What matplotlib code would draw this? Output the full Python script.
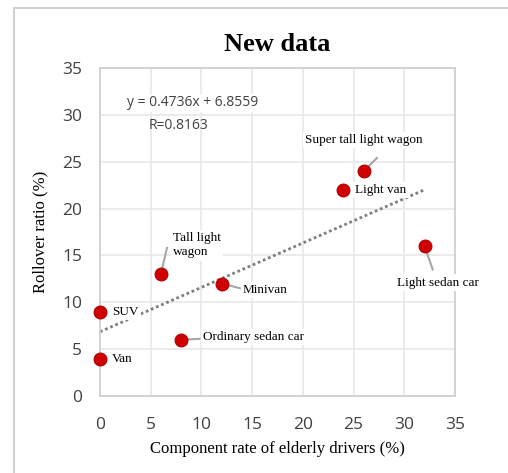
import numpy as np
import matplotlib.pyplot as plt
from matplotlib.lines import Line2D

# data
names = ['Van', 'SUV', 'Tall light\nwagon', 'Ordinary sedan car', 'Minivan',
         'Light van', 'Super tall light wagon', 'Light sedan car']
elderly = [0, 0, 6, 8, 12, 24, 26, 32]
rollover = [4, 9, 13, 6, 12, 22, 24, 16]
slope, intercept = 0.4736, 6.8559
eq_text = 'y = 0.4736x + 6.8559'
r_text = 'R=0.8163'
ticks = [0, 5, 10, 15, 20, 25, 30, 35]

# label placement (text pos, leader end or None)
label_pos = [(1.2, 4.0, None), (1.2, 9.0, None), (7.2, 16.1, (6.6, 15.8)),
             (10.2, 6.3, (9.8, 6.1)), (14.1, 11.3, (13.8, 11.5)),
             (25.1, 22.0, None), (20.2, 27.3, (27.3, 25.4)),
             (29.3, 12.1, (32.8, 13.5))]

serif = 'Liberation Serif'
sans = 'Open Sans'

fig = plt.figure(figsize=(5.08, 4.73), dpi=100)
ax = fig.add_axes([100/508, 1-396/473, 355/508, 328/473])

# outer chart frame (only left and top visible)
fig.add_artist(Line2D([14/508, 14/508], [0, 1-8/473], color='#d0d0d0', lw=1.5,
                      transform=fig.transFigure))
fig.add_artist(Line2D([14/508, 1], [1-8/473, 1-8/473], color='#d0d0d0', lw=1.5,
                      transform=fig.transFigure))

ax.set_xlim(0, 35)
ax.set_ylim(0, 35)
ax.set_xticks(ticks)
ax.set_yticks(ticks)
ax.grid(True, color='#e8e8e8', lw=1.2)
ax.set_axisbelow(True)
for s in ax.spines.values():
    s.set_color('#d0d0d0')
    s.set_linewidth(1.3)
ax.tick_params(length=0, labelsize=12.5, labelcolor='#404040')
ax.tick_params(axis='y', pad=13)
ax.tick_params(axis='x', pad=15)
for lab in ax.get_xticklabels() + ax.get_yticklabels():
    lab.set_fontfamily(sans)

# trend line
xt = np.array([0, 32])
ax.plot(xt, slope*xt + intercept, ls=(0, (1, 1)), color='#7f7f7f', lw=2.0, zorder=2)

ax.scatter(elderly, rollover, s=85, color='#d00000', edgecolor='#b00000',
           lw=0.8, zorder=5, clip_on=False)

for name, x, y, (tx, ty, lead) in zip(names, elderly, rollover, label_pos):
    if lead is not None:
        ax.plot([x, lead[0]], [y, lead[1]], color='#a6a6a6', lw=1.5, zorder=4)
    ax.text(tx, ty, name, ha='left', va='center', family=serif, fontsize=9.5,
            linespacing=1.3, zorder=3,
            bbox=dict(facecolor='white', edgecolor='none', pad=1.5))

ax.text(9.1, 31.3, eq_text, ha='center', va='center', family=sans, fontsize=10,
        color='#404040', zorder=3,
        bbox=dict(facecolor='white', edgecolor='none', pad=1))
ax.text(7.7, 28.9, r_text, ha='center', va='center', family=sans, fontsize=10,
        color='#404040', zorder=3)

ax.set_title('New data', family=serif, fontsize=19, fontweight='bold', pad=12)
ax.set_xlabel('Component rate of elderly drivers (%)', family=serif, fontsize=12,
              labelpad=6)
ax.set_ylabel('Rollover ratio (%)', family=serif, fontsize=12, labelpad=10)

fig.savefig('out.png', dpi=100)
